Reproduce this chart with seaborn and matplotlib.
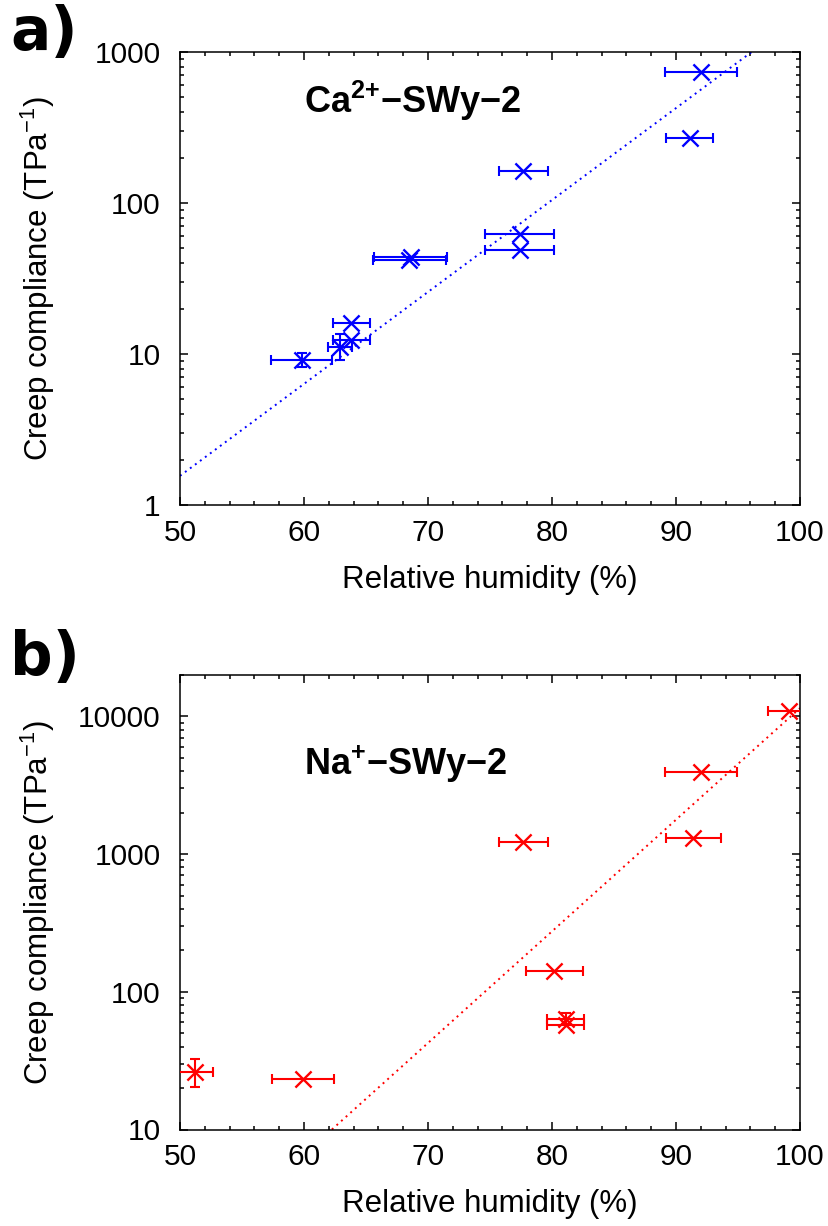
import numpy as np
import pandas as pd
import seaborn as sns
import matplotlib.pyplot as plt
from matplotlib.ticker import MultipleLocator, LogLocator, FuncFormatter, NullFormatter

# --------------------------- Data --------------------------- #
# a) Ca2+-SWy-2
ca_rh = [92.0, 91.1, 77.7, 77.4, 77.4, 68.6, 68.5, 63.8, 63.8, 62.9, 59.8]
ca_cc = [740, 270, 164, 62, 49, 44, 42, 16.1, 12.3, 11.2, 9.1]
ca_rh_err = [2.9, 1.9, 2.0, 2.8, 2.8, 2.95, 2.95, 1.5, 1.5, 1.0, 2.45]
# points that also carry a y error bar
ca_yerr_rh = [62.9, 59.8]
ca_yerr_cc = [11.2, 9.1]
ca_yerr_lo = [9.1, 8.2]
ca_yerr_hi = [13.6, 10.1]
ca_fit_rh = [50, 96.1]
ca_fit_cc = [1.56, 1000]

# b) Na+-SWy-2
na_rh = [99.1, 92.0, 91.4, 77.7, 80.2, 81.1, 81.1, 51.2, 59.9]
na_cc = [10900, 3950, 1306, 1222, 142, 64, 57, 26.3, 23.2]
na_rh_err = [1.7, 2.9, 2.2, 2.0, 2.3, 1.5, 1.5, 1.5, 2.5]
na_yerr_rh = [51.2, 81.1]
na_yerr_cc = [26.3, 64]
na_yerr_lo = [20.2, 58]
na_yerr_hi = [32.5, 70.5]
na_fit_rh = [62.25, 100]
na_fit_cc = [10, 11500]

# --------------------------- Style --------------------------- #
sns.set_style("ticks")
plt.rcParams['font.family'] = ['Liberation Sans', 'DejaVu Sans']
plt.rcParams['mathtext.fontset'] = 'custom'
plt.rcParams['mathtext.rm'] = 'Liberation Sans'
plt.rcParams['mathtext.bf'] = 'Liberation Sans:bold'
plt.rcParams['axes.linewidth'] = 1.1
for k in ['text.color', 'axes.labelcolor', 'xtick.color', 'ytick.color', 'axes.edgecolor']:
    plt.rcParams[k] = 'black'

fig = plt.figure(figsize=(8.29, 12.26), dpi=100)
W, H = 829, 1226
ax_a = fig.add_axes([180 / W, 1 - 505 / H, 620 / W, 453 / H])
ax_b = fig.add_axes([180 / W, 1 - 1129.5 / H, 620 / W, 454.5 / H])


def draw_panel(ax, rh, cc, rh_err, yr, yc, ylo, yhi, fit_rh, fit_cc, color, ylim, label, label_y):
    df = pd.DataFrame({"rh": rh, "cc": cc})
    ax.errorbar(rh, cc, xerr=rh_err, fmt="none", ecolor=color,
                elinewidth=1.5, capsize=3.5, capthick=1.5, zorder=3)
    ye = np.array([np.array(yc) - np.array(ylo), np.array(yhi) - np.array(yc)])
    ax.errorbar(yr, yc, yerr=ye, fmt="none", ecolor=color,
                elinewidth=1.5, capsize=3.5, capthick=1.5, zorder=3)
    sns.scatterplot(data=df, x="rh", y="cc", ax=ax, marker="x", color=color,
                    s=135, linewidth=1.7, zorder=4, legend=False)
    fit = pd.DataFrame({"rh": fit_rh, "cc": fit_cc})
    sns.lineplot(data=fit, x="rh", y="cc", ax=ax, color=color,
                 linestyle=(0, (1, 2.2)), linewidth=1.4, zorder=2)

    ax.set_yscale("log")
    ax.set_xlim(50, 100)
    ax.set_ylim(*ylim)
    ax.xaxis.set_major_locator(MultipleLocator(10))
    ax.xaxis.set_minor_locator(MultipleLocator(2))
    ax.yaxis.set_major_locator(LogLocator(base=10))
    ax.yaxis.set_minor_locator(LogLocator(base=10, subs=np.arange(2, 10)))
    ax.yaxis.set_major_formatter(FuncFormatter(lambda v, p: f"{v:g}"))
    ax.yaxis.set_minor_formatter(NullFormatter())
    ax.tick_params(which="both", direction="in", top=True, right=True,
                   width=1.1, color="black")
    ax.tick_params(which="major", length=6)
    ax.tick_params(which="minor", length=3)
    ax.tick_params(axis="y", labelsize=21.5, pad=14)
    ax.tick_params(axis="x", labelsize=21.5, pad=10)
    for sp in ax.spines.values():
        sp.set_visible(True)
        sp.set_color("black")

    ax.set_xlabel("Relative humidity (%)", fontsize=22.5, labelpad=13)
    ax.set_ylabel(r"Creep compliance (TPa$^{-1}$)", fontsize=22.5)
    ax.yaxis.set_label_coords(-0.198, 0.5)
    ax.text(0.2, label_y, label, transform=ax.transAxes, fontsize=26,
            ha="left", va="baseline", color="black")


draw_panel(ax_a, ca_rh, ca_cc, ca_rh_err, ca_yerr_rh, ca_yerr_cc, ca_yerr_lo, ca_yerr_hi,
           ca_fit_rh, ca_fit_cc, "#0000ff", (1, 1000), r"$\mathbf{Ca^{2{+}}{-}SWy{-}2}$", 0.865)
draw_panel(ax_b, na_rh, na_cc, na_rh_err, na_yerr_rh, na_yerr_cc, na_yerr_lo, na_yerr_hi,
           na_fit_rh, na_fit_cc, "#ff0000", (10, 20000), r"$\mathbf{Na^{{+}}{-}SWy{-}2}$", 0.78)

fig.text(10 / W, 1 - 50 / H, "a)", fontsize=43, fontweight="bold",
         family="DejaVu Sans", va="baseline")
fig.text(10 / W, 1 - 675 / H, "b)", fontsize=43, fontweight="bold",
         family="DejaVu Sans", va="baseline")

plt.savefig("out.png", dpi=100)
plt.close()
